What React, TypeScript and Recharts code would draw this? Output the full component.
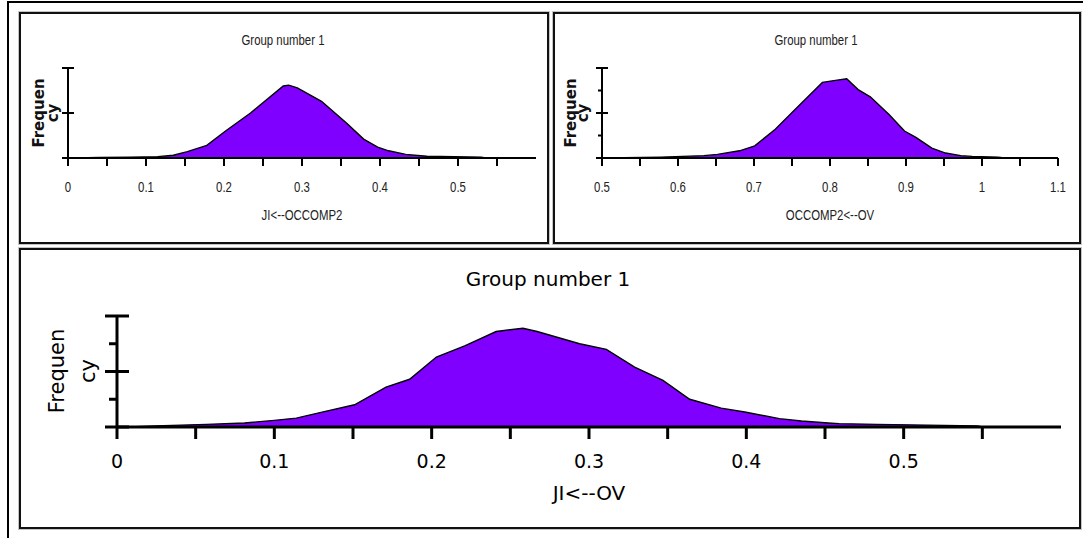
import React from 'react';
import { AreaChart, Area, XAxis, YAxis } from 'recharts';

// bootstrap distribution, JI<--OCCOMP2
const jiOccomp2X = [0.01, 0.04, 0.08, 0.115, 0.135, 0.153, 0.178, 0.202, 0.234, 0.276, 0.283, 0.294, 0.325, 0.357, 0.379, 0.397, 0.411, 0.433, 0.46, 0.53, 0.535];
const jiOccomp2Freq = [0, 0.5, 0.8, 1.5, 3, 7, 14, 30, 50, 80, 81, 78, 63, 39, 21, 12, 8, 4, 2, 1, 0];

// bootstrap distribution, OCCOMP2<--OV
const occomp2OvX = [0.504, 0.578, 0.634, 0.652, 0.681, 0.701, 0.728, 0.759, 0.79, 0.805, 0.822, 0.837, 0.853, 0.878, 0.898, 0.913, 0.934, 0.952, 0.972, 0.987, 1.021, 1.03];
const occomp2OvFreq = [0, 1, 2.6, 4, 8, 13.5, 32, 58, 84, 86, 88, 76, 68, 48, 30, 23, 11, 5.5, 2.6, 1.8, 1, 0];

// bootstrap distribution, JI<--OV
const jiOvX = [0.008, 0.024, 0.057, 0.081, 0.1, 0.114, 0.129, 0.151, 0.171, 0.186, 0.203, 0.221, 0.241, 0.258, 0.267, 0.294, 0.311, 0.329, 0.347, 0.364, 0.384, 0.399, 0.421, 0.435, 0.452, 0.459, 0.483, 0.547, 0.55];
const jiOvFreq = [0, 1, 2.4, 3.6, 6, 8, 13, 20, 36, 43, 63, 73, 86, 89, 86, 75, 70, 54, 42, 25, 17, 13.5, 7.5, 5.4, 3.6, 3, 2.4, 1, 0];

const lowTicks = [0, 0.05, 0.1, 0.15, 0.2, 0.25, 0.3, 0.35, 0.4, 0.45, 0.5, 0.55];
const lowLabels = ['0', '', '0.1', '', '0.2', '', '0.3', '', '0.4', '', '0.5', ''];
const highTicks = [0.5, 0.55, 0.6, 0.65, 0.7, 0.75, 0.8, 0.85, 0.9, 0.95, 1, 1.05, 1.1];
const highLabels = ['0.5', '', '0.6', '', '0.7', '', '0.8', '', '0.9', '', '1', '', '1.1'];
const freqTicksPlain = [0, 50, 100];
const freqTicksMinor = [0, 25, 50, 75, 100];

const FILL = '#8000ff';
const NARROW = '"Liberation Sans", Arial, sans-serif';
const WIDE = '"DejaVu Sans", Verdana, sans-serif';

type AxisLook = {
  stroke: number;
  xTickLen: number;
  yMajor: number;
  yMinor: number;
  labelDy: number;
  font: string;
  fontSize: number;
  squeeze: number;
  color: string;
};

const smallLook: AxisLook = { stroke: 2, xTickLen: 8, yMajor: 6, yMinor: 4, labelDy: 29, font: NARROW, fontSize: 15, squeeze: 0.76, color: '#222' };
const bigLook: AxisLook = { stroke: 3, xTickLen: 12, yMajor: 12, yMinor: 8, labelDy: 34, font: WIDE, fontSize: 19, squeeze: 1, color: '#000' };

function xTick(look: AxisLook, ticks: number[], labels: string[]) {
  return (props: any) => {
    const { x, y, payload } = props;
    const i = ticks.findIndex((t) => Math.abs(t - payload.value) < 1e-9);
    const label = i >= 0 ? labels[i] : '';
    return (
      <g>
        <line x1={x} x2={x} y1={y} y2={y + look.xTickLen} stroke="#000" strokeWidth={look.stroke} />
        {label && (
          <text
            transform={`translate(${x},${y + look.labelDy}) scale(${look.squeeze},1)`}
            textAnchor="middle"
            dominantBaseline="central"
            fontFamily={look.font}
            fontSize={look.fontSize}
            fill={look.color}
          >
            {label}
          </text>
        )}
      </g>
    );
  };
}

function yTick(look: AxisLook) {
  return (props: any) => {
    const { x, y, payload } = props;
    const major = payload.value % 50 === 0;
    return major ? (
      <line x1={x - look.yMajor} x2={x + look.yMajor} y1={y} y2={y} stroke="#000" strokeWidth={look.stroke} />
    ) : (
      <line x1={x - look.yMinor} x2={x} y1={y} y2={y} stroke="#000" strokeWidth={look.stroke} />
    );
  };
}

type PanelProps = {
  left: number;
  top: number;
  width: number;
  height: number;
  margin: { top: number; right: number; bottom: number; left: number };
  xs: number[];
  freqs: number[];
  domain: [number, number];
  ticks: number[];
  labels: string[];
  yTicks: number[];
  look: AxisLook;
  title: string;
  axisTitle: string;
  titlePos: [number, number];
  axisTitlePos: [number, number];
  freqPos: [number, number];
  cyPos: [number, number];
  yLabelStyle: React.CSSProperties;
  titleStyle: React.CSSProperties;
};

function centered(pos: [number, number], extra: string, style: React.CSSProperties, text: string) {
  return (
    <div
      style={{
        position: 'absolute',
        left: pos[0],
        top: pos[1],
        transform: `translate(-50%, -50%) ${extra}`,
        whiteSpace: 'nowrap',
        lineHeight: 1,
        ...style,
      }}
    >
      {text}
    </div>
  );
}

function Panel(p: PanelProps) {
  const data = p.xs.map((x, i) => ({ x, freq: p.freqs[i] }));
  const squeeze = p.look.squeeze !== 1 ? `scaleX(${p.look.squeeze})` : '';
  return (
    <div
      style={{
        position: 'absolute',
        left: p.left,
        top: p.top,
        width: p.width + 4,
        height: p.height + 4,
        boxSizing: 'border-box',
        border: '2px solid #111',
        outline: '1px solid #c4c4c4',
        background: '#fff',
      }}
    >
      <AreaChart width={p.width} height={p.height} data={data} margin={p.margin}>
        <XAxis
          dataKey="x"
          type="number"
          domain={p.domain}
          ticks={p.ticks}
          interval={0}
          allowDataOverflow
          height={30}
          tickSize={0}
          tickMargin={0}
          tick={xTick(p.look, p.ticks, p.labels)}
          axisLine={{ stroke: '#000', strokeWidth: p.look.stroke }}
        />
        <YAxis
          type="number"
          domain={[0, 100]}
          ticks={p.yTicks}
          interval={0}
          width={10}
          tickSize={0}
          tickMargin={0}
          tick={yTick(p.look)}
          axisLine={{ stroke: '#000', strokeWidth: p.look.stroke }}
        />
        <Area
          type="linear"
          dataKey="freq"
          stroke="#000"
          strokeWidth={1.4}
          fill={FILL}
          fillOpacity={1}
          isAnimationActive={false}
          dot={false}
          activeDot={false}
        />
      </AreaChart>
      {centered(p.titlePos, squeeze, p.titleStyle, p.title)}
      {centered(p.axisTitlePos, squeeze, p.titleStyle, p.axisTitle)}
      {centered(p.freqPos, 'rotate(-90deg)', p.yLabelStyle, 'Frequen')}
      {centered(p.cyPos, 'rotate(-90deg)', p.yLabelStyle, 'cy')}
    </div>
  );
}

export default function App() {
  const smallTitle: React.CSSProperties = { fontFamily: NARROW, fontSize: 15, color: '#222' };
  const smallY: React.CSSProperties = { fontFamily: WIDE, fontSize: 15, fontWeight: 'bold', color: '#111' };
  const bigTitle: React.CSSProperties = { fontFamily: WIDE, fontSize: 20, color: '#000' };
  const bigY: React.CSSProperties = { fontFamily: WIDE, fontSize: 21, color: '#000' };
  return (
    <div style={{ position: 'absolute', left: 0, top: 0, width: 1083, height: 538, overflow: 'hidden', background: '#fff' }}>
      <div
        style={{
          position: 'absolute',
          left: 7,
          top: 1,
          width: 1100,
          height: 535,
          borderLeft: '2px solid #000',
          borderTop: '2px solid #000',
          borderBottom: '1px solid #cfcfcf',
        }}
      />
      <Panel
        left={19}
        top={12}
        width={526}
        height={228}
        margin={{ top: 54, right: 11, bottom: 54, left: 37 }}
        xs={jiOccomp2X}
        freqs={jiOccomp2Freq}
        domain={[0, 0.6]}
        ticks={lowTicks}
        labels={lowLabels}
        yTicks={freqTicksPlain}
        look={smallLook}
        title="Group number 1"
        axisTitle="JI<--OCCOMP2"
        titlePos={[262, 25]}
        axisTitlePos={[281, 200]}
        freqPos={[17.5, 99]}
        cyPos={[31.5, 99]}
        yLabelStyle={smallY}
        titleStyle={smallTitle}
      />
      <Panel
        left={553}
        top={12}
        width={524}
        height={228}
        margin={{ top: 54, right: 21, bottom: 54, left: 37 }}
        xs={occomp2OvX}
        freqs={occomp2OvFreq}
        domain={[0.5, 1.1]}
        ticks={highTicks}
        labels={highLabels}
        yTicks={freqTicksMinor}
        look={smallLook}
        title="Group number 1"
        axisTitle="OCCOMP2<--OV"
        titlePos={[261, 25]}
        axisTitlePos={[275, 200]}
        freqPos={[16, 99]}
        cyPos={[28, 99]}
        yLabelStyle={smallY}
        titleStyle={smallTitle}
      />
      <Panel
        left={19}
        top={248}
        width={1058}
        height={277}
        margin={{ top: 66, right: 18, bottom: 70, left: 86 }}
        xs={jiOvX}
        freqs={jiOvFreq}
        domain={[0, 0.6]}
        ticks={lowTicks}
        labels={lowLabels}
        yTicks={freqTicksMinor}
        look={bigLook}
        title="Group number 1"
        axisTitle="JI<--OV"
        titlePos={[527, 29]}
        axisTitlePos={[568, 243]}
        freqPos={[36, 121]}
        cyPos={[67, 121]}
        yLabelStyle={bigY}
        titleStyle={bigTitle}
      />
    </div>
  );
}
